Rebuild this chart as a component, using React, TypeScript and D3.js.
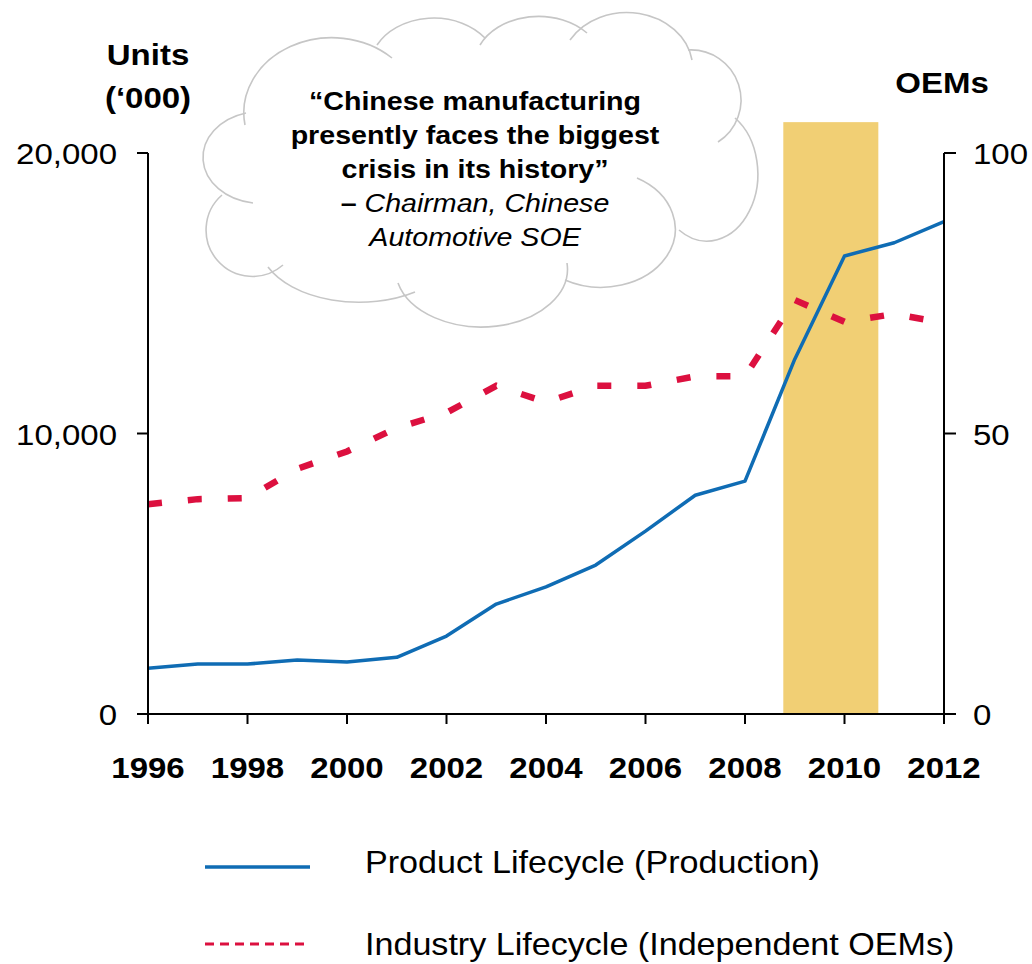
import React from "react";
import * as d3 from "d3";

const years = [1996, 1997, 1998, 1999, 2000, 2001, 2002, 2003, 2004, 2005, 2006, 2007, 2008, 2009, 2010, 2011, 2012];
const production = [1630, 1780, 1780, 1925, 1855, 2020, 2780, 3920, 4530, 5310, 6520, 7800, 8300, 12650, 16330, 16800, 17550];
const oems = [37.4, 38.3, 38.5, 43.7, 46.8, 51.0, 53.7, 58.5, 55.6, 58.5, 58.5, 60.2, 60.2, 73.8, 69.9, 71.3, 69.7];
const xTickYears = [1996, 1998, 2000, 2002, 2004, 2006, 2008, 2010, 2012];
const leftTicks = [0, 10000, 20000];
const rightTicks = [0, 50, 100];
const crisisStart = 2008.77;
const crisisEnd = 2010.68;
const crisisTop = 21100;
const quoteLines = ["\u201CChinese manufacturing", "presently faces the biggest", "crisis in its history\u201D"];
const sourceLines = ["Chairman, Chinese", "Automotive SOE"];
const legendItems = ["Product Lifecycle (Production)", "Industry Lifecycle (Independent OEMs)"];

const BLUE = "#0f6cb4";
const RED = "#dc103f";
const GOLD = "#f1cf74";
const FONT = "'Liberation Sans', Arial, Helvetica, sans-serif";
const SX = 1.1;

// cloud bumps: x1,y1,x2,y2,rx,ry,largeArc
const cloudBumps: number[][] = [
  [253, 203, 246, 113, 58, 46, 0],
  [245, 125, 392, 58, 88, 75, 0],
  [377, 45, 485, 38, 64, 50, 0],
  [480, 45, 587, 33, 64, 48, 0],
  [570, 40, 692, 60, 66, 56, 0],
  [688, 50, 718, 142, 50, 50, 0],
  [735, 118, 679, 230, 50, 66, 0],
  [637, 178, 565, 280, 70, 55, 1],
  [567, 263, 398, 283, 86, 58, 0],
  [415, 292, 268, 267, 100, 60, 0],
  [283, 265, 222, 195, 45, 45, 1],
];

function T(props: any) {
  const { x, y, anchor = "middle", size = 30, weight = "normal", italic = false, children } = props;
  return (
    <text
      transform={`translate(${x},${y}) scale(${SX},1)`}
      textAnchor={anchor}
      fontSize={size}
      fontWeight={weight}
      fontStyle={italic ? "italic" : "normal"}
      fontFamily={FONT}
      fill="#000"
    >
      {children}
    </text>
  );
}

export default function App() {
  const W = 1032, H = 964;
  const x = d3.scaleLinear().domain([1996, 2012]).range([148, 944]);
  const yL = d3.scaleLinear().domain([0, 20000]).range([714, 153]);
  const yR = d3.scaleLinear().domain([0, 100]).range([714, 153]);

  const prodLine = d3.line<number>().x((_, i) => x(years[i])).y((d) => yL(d))(production) || "";
  const oemLine = d3.line<number>().x((_, i) => x(years[i])).y((d) => yR(d))(oems) || "";

  const xL = x(1996), xRt = x(2012), y0 = yL(0);

  return (
    <svg width={W} height={H} style={{ position: "absolute", left: 0, top: 0, display: "block", background: "#fff" }}>
      <rect x={0} y={0} width={W} height={H} fill="#fff" />
      {/* crisis band */}
      <rect x={x(crisisStart)} y={yL(crisisTop)} width={x(crisisEnd) - x(crisisStart)} height={y0 - yL(crisisTop)} fill={GOLD} />

      {/* cloud */}
      <g fill="none" stroke="#c6c6c6" strokeWidth={1.6}>
        {cloudBumps.map((b, i) => (
          <path key={i} d={`M${b[0]},${b[1]} A${b[4]},${b[5]} 0 ${b[6]} 1 ${b[2]},${b[3]}`} />
        ))}
      </g>
      {quoteLines.map((l, i) => (
        <T key={i} x={475} y={110 + i * 34} size={26} weight="bold">{l}</T>
      ))}
      <text transform={`translate(475,${110 + 3 * 34}) scale(${SX},1)`} textAnchor="middle" fontSize={26} fontFamily={FONT}>
        <tspan fontWeight="bold">{"\u2013 "}</tspan>
        <tspan fontStyle="italic">{sourceLines[0]}</tspan>
      </text>
      <T x={475} y={110 + 4 * 34} size={26} italic>{sourceLines[1]}</T>

      {/* lines */}
      <path d={oemLine} fill="none" stroke={RED} strokeWidth={6.5} strokeDasharray="14 26" />
      <path d={prodLine} fill="none" stroke={BLUE} strokeWidth={3.5} strokeLinejoin="round" />

      {/* axes */}
      <g stroke="#000" strokeWidth={2}>
        <line x1={xL} y1={yL(20000)} x2={xL} y2={y0 + 10} />
        <line x1={xRt} y1={yR(100)} x2={xRt} y2={y0 + 10} />
        <line x1={xL - 11} y1={y0} x2={xRt + 12} y2={y0} />
        {leftTicks.map((t) => (
          <line key={"lt" + t} x1={xL - 11} y1={yL(t)} x2={xL} y2={yL(t)} />
        ))}
        {rightTicks.map((t) => (
          <line key={"rt" + t} x1={xRt} y1={yR(t)} x2={xRt + 12} y2={yR(t)} />
        ))}
        {xTickYears.map((t) => (
          <line key={"xt" + t} x1={x(t)} y1={y0} x2={x(t)} y2={y0 + 10} />
        ))}
      </g>
      {leftTicks.map((t) => (
        <T key={"ll" + t} x={117} y={yL(t) + 11} anchor="end" size={30}>{d3.format(",")(t)}</T>
      ))}
      {rightTicks.map((t) => (
        <T key={"rl" + t} x={973} y={yR(t) + 11} anchor="start" size={30}>{String(t)}</T>
      ))}
      {xTickYears.map((t) => (
        <T key={"xl" + t} x={x(t)} y={778} size={30} weight="bold">{String(t)}</T>
      ))}

      {/* titles */}
      <T x={148} y={65} size={30} weight="bold">Units</T>
      <T x={148} y={108} size={30} weight="bold">{"(\u2018000)"}</T>
      <T x={942} y={93} size={30} weight="bold">OEMs</T>

      {/* legend */}
      <line x1={205} y1={867} x2={310} y2={867} stroke={BLUE} strokeWidth={3.5} />
      <T x={365} y={873} anchor="start" size={31}>{legendItems[0]}</T>
      <line x1={205} y1={944} x2={305} y2={944} stroke={RED} strokeWidth={3} strokeDasharray="9 6" />
      <T x={365} y={955} anchor="start" size={31}>{legendItems[1]}</T>
    </svg>
  );
}
